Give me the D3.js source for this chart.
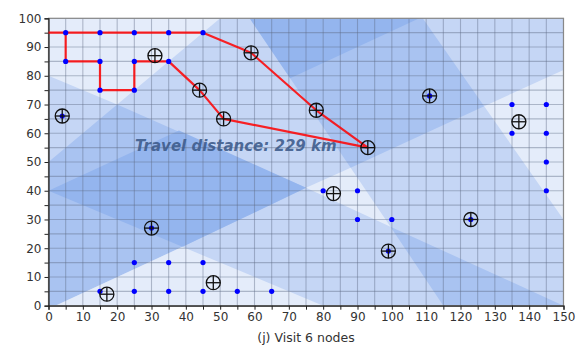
<!DOCTYPE html>
<html><head><meta charset="utf-8">
<script src="https://cdn.jsdelivr.net/npm/d3@7"></script>
<style>body{margin:0;background:#fff;} svg{display:block;font-family:"DejaVu Sans",sans-serif;}</style>
</head><body><svg id="c" width="583" height="347"></svg>
<script>
// ---- data ----
const routeX = [0,5,5,15,15,25,25,35,44,51,93,78,59,45,0];
const routeY = [95,95,85,85,75,75,85,85,75,65,55,68,88,95,95];
const nodeX = [5,15,25,35,45,5,15,25,35,15,25,135,145,135,145,145,145,80,90,90,100,25,35,45,15,25,35,45,55,65,4,30,111,123,99];
const nodeY = [95,95,95,95,95,85,85,85,85,75,75,70,70,60,60,50,40,40,40,30,30,15,15,15,5,5,5,5,5,5,66,27,73,30,19];
const siteX = [4,31,59,44,51,78,93,111,137,83,123,99,30,17,48];
const siteY = [66,87,88,75,65,68,55,73,64,39,30,19,27,4,8];
const xTickValues = d3.range(0,151,5);
const yTickValues = d3.range(0,101,5);
const caption = "(j) Visit 6 nodes";
const annotation = "Travel distance: 229 km";
// background coverage regions (data coords) by shade level
const shade2 = [
  [[0,50],[20,70],[75,41],[39,20.5],[2,0],[0,0]],
  [[58.6,100],[109,100],[126.9,69.4],[88,48]],
  [[99.6,27.5],[115,0],[150,0]]
];
const shade3 = [
  [[0,40],[38,61],[75,41],[39,20.5]],
  [[58.6,100],[108,100],[70.4,79.1]]
];
const shade0 = [
  [[0,100],[50,100],[20,70],[0,80]],
  [[2,0],[39,20.5],[80,0]],
  [[75,41],[88,48],[99.6,27.5]],
  [[126.9,69.4],[150,82],[150,30]]
];

const W=583,H=347, m={l:48.5,r:19.5,t:18.3,b:41.3};
const svg=d3.select("#c");
const x=d3.scaleLinear().domain([0,150]).range([m.l,W-m.r]);
const y=d3.scaleLinear().domain([0,100]).range([H-m.b,m.t]);
const defs=svg.append("defs");
defs.append("clipPath").attr("id","clip").append("rect")
  .attr("x",x(0)).attr("y",y(100)).attr("width",x(150)-x(0)).attr("height",y(0)-y(100));
const g=svg.append("g").attr("clip-path","url(#clip)");
g.append("rect").attr("x",x(0)).attr("y",y(100)).attr("width",x(150)-x(0)).attr("height",y(0)-y(100)).attr("fill","#c5d6f5");
const line=d3.line().x(d=>x(d[0])).y(d=>y(d[1]));
const poly=(arr,col)=>g.selectAll(null).data(arr).enter().append("path").attr("d",d=>line(d)+"Z").attr("fill",col);
poly(shade2,"#a9c3f1");
poly(shade3,"#94b5ee");
poly(shade0,"#e4ecfa");
// grid
g.selectAll(null).data(xTickValues).enter().append("line")
  .attr("x1",d=>x(d)).attr("x2",d=>x(d)).attr("y1",y(0)).attr("y2",y(100))
  .attr("stroke","#5d6a82").attr("stroke-opacity",0.42).attr("stroke-width",1.1);
g.selectAll(null).data(yTickValues).enter().append("line")
  .attr("y1",d=>y(d)).attr("y2",d=>y(d)).attr("x1",x(0)).attr("x2",x(150))
  .attr("stroke","#5d6a82").attr("stroke-opacity",0.42).attr("stroke-width",1.1);
// frame
svg.append("rect").attr("x",x(0)).attr("y",y(100)).attr("width",x(150)-x(0)).attr("height",y(0)-y(100))
  .attr("fill","none").attr("stroke","#888").attr("stroke-width",1.2);
// axes
const xa=svg.append("g").attr("transform",`translate(0,${y(0)})`)
  .call(d3.axisBottom(x).tickValues(xTickValues).tickSize(4).tickPadding(3).tickFormat(d=>d%10===0?d:""));
const ya=svg.append("g").attr("transform",`translate(${x(0)},0)`)
  .call(d3.axisLeft(y).tickValues(yTickValues).tickSize(4).tickPadding(3).tickFormat(d=>d%10===0?d:""));
[xa,ya].forEach(a=>{a.select(".domain").attr("stroke","#222").attr("stroke-width",1.2);
  a.selectAll(".tick line").attr("stroke","#222");
  a.selectAll("text").attr("fill","#333").attr("font-size",12).attr("font-family","DejaVu Sans");});
// annotation
svg.append("text").attr("x",x(25.2)).attr("y",y(55.3)).attr("dominant-baseline","middle")
  .attr("font-size",15).attr("font-weight","bold").attr("font-style","italic")
  .attr("fill","#3c5a8a").attr("fill-opacity",0.9).text(annotation);
// route
const route=routeX.map((d,i)=>[d,routeY[i]]);
svg.append("path").attr("d",line(route)).attr("fill","none").attr("stroke","#ff0000").attr("stroke-opacity",0.85)
  .attr("stroke-width",2.2).attr("stroke-linejoin","round");
// nodes
svg.selectAll(null).data(nodeX).enter().append("circle")
  .attr("cx",d=>x(d)).attr("cy",(d,i)=>y(nodeY[i])).attr("r",2.6).attr("fill","#0000ff");
// sites
const sg=svg.selectAll(null).data(siteX).enter().append("g")
  .attr("transform",(d,i)=>`translate(${x(d)},${y(siteY[i])})`);
sg.append("circle").attr("r",7).attr("fill","none").attr("stroke","#111").attr("stroke-width",1.3);
sg.append("line").attr("x1",-7).attr("x2",7).attr("stroke","#111").attr("stroke-width",1.3);
sg.append("line").attr("y1",-7).attr("y2",7).attr("stroke","#111").attr("stroke-width",1.3);
// caption
svg.append("text").attr("x",(x(0)+x(150))/2).attr("y",342).attr("text-anchor","middle")
  .attr("font-size",12.5).attr("fill","#333").text(caption);
</script></body></html>
